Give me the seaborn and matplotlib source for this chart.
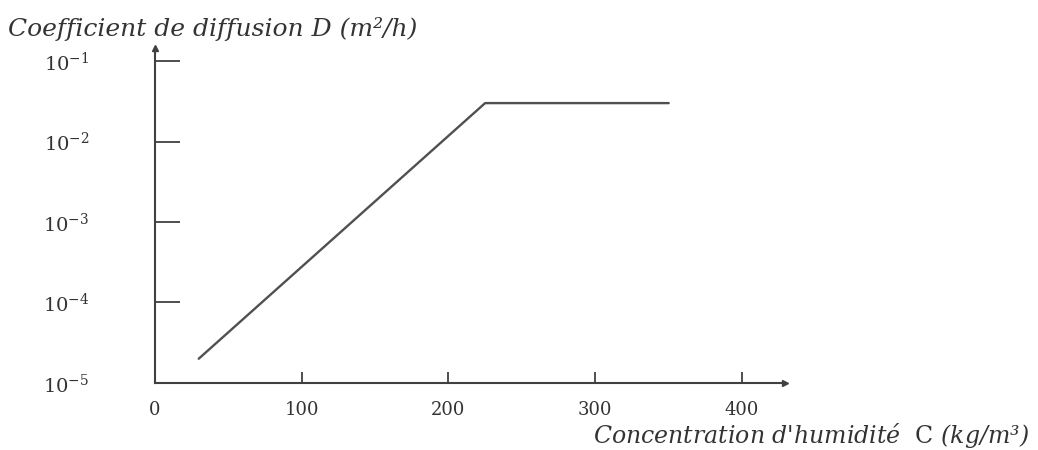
import numpy as np
import pandas as pd
import seaborn as sns
import matplotlib.pyplot as plt

# values
concentration = [30, 225, 350]          # kg/m3
diffusion = [2e-5, 3e-2, 3e-2]          # m2/h
x_ticks = [0, 100, 200, 300, 400]
y_ticks = [1e-5, 1e-4, 1e-3, 1e-2, 1e-1]
y_tick_labels = ["$10^{-5}$", "$10^{-4}$", "$10^{-3}$", "$10^{-2}$", "$10^{-1}$"]

sns.set_style("white")
plt.rcParams["font.family"] = ["DejaVu Serif"]
plt.rcParams["mathtext.fontset"] = "dejavuserif"

df = pd.DataFrame({"C": concentration, "D": diffusion})

fig = plt.figure(figsize=(10.38, 4.5), dpi=100)
ax = fig.add_axes([0.149, 0.149, 0.607, 0.744])

sns.lineplot(data=df, x="C", y="D", ax=ax, color="#505050", linewidth=1.7)

ax.set_yscale("log")
ax.set_xlim(0, 429)
ax.set_ylim(1e-5, 10 ** -0.84)

ax.set_xticks(x_ticks)
ax.set_xticklabels([str(v) for v in x_ticks])
ax.set_yticks(y_ticks)
ax.set_yticklabels(y_tick_labels)
ax.yaxis.set_minor_locator(plt.NullLocator())

ax.tick_params(axis="y", direction="in", length=18, width=1.3, pad=47,
               labelsize=14, color="#404040", labelcolor="#333333")
ax.tick_params(axis="x", direction="in", length=8, width=1.3, pad=13,
               labelsize=13, color="#404040", labelcolor="#333333")
ax.tick_params(left=True, bottom=True)

# no tick marks at the origin
for t in ax.xaxis.get_major_ticks():
    if t.get_loc() == 0:
        t.tick1line.set_visible(False)
for t in ax.yaxis.get_major_ticks():
    if np.isclose(t.get_loc(), 1e-5):
        t.tick1line.set_visible(False)

ax.set_xlabel("")
ax.set_ylabel("")
sns.despine(ax=ax)
for s in ["left", "bottom"]:
    ax.spines[s].set_linewidth(1.5)
    ax.spines[s].set_color("#404040")

# arrow heads on the axes
ax.plot(1, 0, ">", color="#404040", markersize=5, transform=ax.transAxes, clip_on=False)
ax.plot(0, 1, "^", color="#404040", markersize=5, transform=ax.transAxes, clip_on=False)

fig.text(0.008, 0.935, "Coefficient de diffusion D (m²/h)", fontsize=18,
         style="italic", color="#333333", ha="left", va="center")
fig.text(0.992, 0.032, "Concentration d'humidité  $\\mathrm{C}$ (kg/m³)", fontsize=17,
         style="italic", color="#333333", ha="right", va="center")

fig.savefig("out.png", dpi=100)
